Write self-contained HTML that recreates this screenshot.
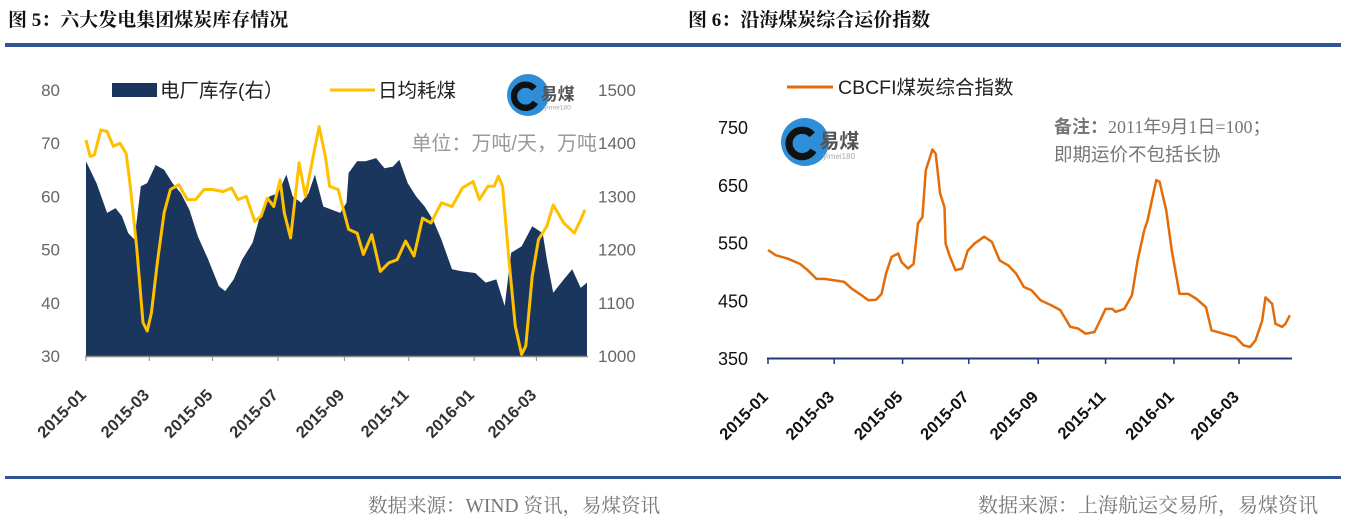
<!DOCTYPE html>
<html><head><meta charset="utf-8"><style>
body{margin:0;background:#fff;}
svg{display:block;font-family:"Liberation Sans","Noto Sans CJK SC",sans-serif;}
</style></head><body>
<svg width="1346" height="522" viewBox="0 0 1346 522">
<text x="8" y="26" font-size="19" font-weight="bold" fill="#111" font-family="Liberation Serif,Noto Serif CJK SC,serif">图 5：六大发电集团煤炭库存情况</text>
<text x="688" y="26" font-size="19" font-weight="bold" fill="#111" font-family="Liberation Serif,Noto Serif CJK SC,serif">图 6：沿海煤炭综合运价指数</text>
<rect x="5" y="43" width="1336" height="4" fill="#2F5597"/>
<rect x="5" y="476" width="1336" height="3" fill="#2F5597"/>
<text x="368" y="512" font-size="19.5" fill="#777" font-family="Liberation Serif,Noto Serif CJK SC,serif">数据来源：WIND 资讯，易煤资讯</text>
<text x="978" y="512" font-size="20" fill="#777" font-family="Liberation Serif,Noto Serif CJK SC,serif">数据来源：上海航运交易所，易煤资讯</text>
<g id="left"></g>
<g id="right"></g>
</svg>
<script>
const NS="http://www.w3.org/2000/svg";
// ---- Left chart data ----
const stockDays=[0,10,20,28,34,40,46,52,58,66,74,82,90,98,106,116,126,132,140,148,158,164,174,182,190,196,204,211,217,225,233,241,247,249,257,265,275,283,291,297,305,313,321,329,337,347,357,369,379,389,397,403,413,423,433,437,443,453,461,469,475];
const stockValues=[1366,1325,1269,1278,1263,1231,1219,1319,1325,1359,1350,1325,1306,1275,1225,1181,1131,1122,1144,1181,1213,1256,1300,1306,1341,1300,1288,1306,1341,1281,1275,1269,1288,1344,1366,1366,1372,1353,1356,1369,1325,1300,1281,1256,1219,1163,1159,1156,1138,1144,1094,1194,1206,1244,1231,1181,1119,1144,1163,1128,1138];
const burnDays=[0,4,8,14,20,26,32,38,42,48,54,58,62,68,74,80,88,96,104,112,120,130,138,144,152,160,166,172,178,184,188,194,202,208,216,221,227,231,239,249,257,263,271,279,287,295,303,311,319,327,337,347,357,367,373,381,387,391,395,401,407,413,417,423,429,437,443,453,463,469,473];
const burnValues=[70.6,67.5,67.8,72.5,72.2,69.4,70,68.1,61.9,50.6,36.3,34.7,38.1,48.1,56.9,61.3,62.2,59.4,59.4,61.3,61.3,60.9,61.6,59.4,60,55.3,56.3,59.7,58.1,63.1,56.9,52.2,66.3,60,68.1,73.1,67.5,61.9,61.3,53.8,53.1,49.1,52.8,45.9,47.5,48.1,51.6,48.8,55.9,55,58.8,58.1,61.6,62.8,59.4,61.9,61.9,63.8,61.9,48.1,35.6,30.3,31.9,45,51.9,54.4,58.4,55,53.1,55.6,57.5];
const leftTicks=[30,40,50,60,70,80];
const rightTicks=[1000,1100,1200,1300,1400,1500];
const xLabels=["2015-01","2015-03","2015-05","2015-07","2015-09","2015-11","2016-01","2016-03"];
const xTickDays=[0,60,120,182,245,306,368,427];
// ---- Right chart data ----
const cbDays=[0,7,18,29,36,44,51,62,69,76,83,91,98,103,107,112,118,121,127,132,136,140,143,149,152,156,160,161,165,170,176,181,187,196,203,210,218,225,232,239,247,257,265,274,281,288,296,301,306,312,315,323,330,335,341,344,348,352,355,361,366,373,381,388,397,402,413,424,431,437,442,448,451,457,460,466,469,473];
const cbValues=[537,528,522,513,502,487,487,484,482,470,461,450,451,461,496,525,531,516,505,513,583,594,675,711,704,635,611,548,525,502,505,536,548,560,551,519,510,496,473,467,450,441,433,404,401,392,395,415,435,435,430,435,459,519,571,588,623,658,655,606,536,461,461,453,438,398,392,386,372,369,381,415,455,444,409,404,409,424];
const cbTicks=[350,450,550,650,750];
const cbTickDays=[0,60,122,182,245,306,368,427];

function el(tag,attrs,parent,text){const e=document.createElementNS(NS,tag);for(const k in attrs)e.setAttribute(k,attrs[k]);if(text!==undefined)e.textContent=text;parent.appendChild(e);return e;}

// Left chart
const L=document.getElementById('left');
const lx=d=>86+d/475*501;
const ly=v=>356-(v-30)/50*266;
const ry=v=>356-(v-1000)/500*266;
let pa="M"+lx(stockDays[0])+","+ry(1000);
stockDays.forEach((d,i)=>{pa+=" L"+lx(d).toFixed(1)+","+ry(stockValues[i]).toFixed(1);});
pa+=" L"+lx(stockDays[stockDays.length-1])+","+ry(1000)+" Z";
const area=el('path',{d:pa,fill:'#1B365D'},L);


const bl=el('polyline',{points:burnDays.map((d,i)=>lx(d).toFixed(1)+","+ly(burnValues[i]).toFixed(1)).join(" "),fill:'none',stroke:'#FFC000','stroke-width':3,'stroke-linejoin':'round'},L);


const ax=el('line',{x1:85,y1:356.5,x2:588,y2:356.5,stroke:'#888','stroke-width':1.5},L);


leftTicks.forEach(v=>{const t=el('text',{x:60,y:ly(v)+6,'font-size':17,fill:'#666','text-anchor':'end'},L,v);

});
rightTicks.forEach(v=>{const t=el('text',{x:598,y:ry(v)+6,'font-size':17,fill:'#666'},L,v);

});
xTickDays.forEach((d,i)=>{const x=lx(d);el('line',{x1:x,y1:356,x2:x,y2:361,stroke:'#888'},L);
const t=el('text',{x:x+1,y:396,'font-size':16.5,'font-weight':'bold',fill:'#333','text-anchor':'end',transform:`rotate(-45 ${x+1} 396)`},L,xLabels[i]);

});
const lg1=el('rect',{x:112,y:83,width:45,height:14,fill:'#1B365D'},L);


const lt1=el('text',{x:160,y:97,'font-size':19.5,fill:'#222'},L,'电厂库存(右）');


const lg2=el('line',{x1:330,y1:90,x2:375,y2:90,stroke:'#FFC000','stroke-width':3},L);


const lt2=el('text',{x:378,y:97,'font-size':19.5,fill:'#222'},L,'日均耗煤');


const un=el('text',{x:597,y:150,'font-size':20,fill:'#999','text-anchor':'end'},L,'单位：万吨/天，万吨');


function logo(g,cx,cy,r,fs,name){const c=el('circle',{cx:cx,cy:cy,r:r,fill:'#2E8FD8'},g);


el('path',{d:`M${cx+r*0.3},${cy-r*0.3} A${r*0.55},${r*0.55} 0 1 0 ${cx+r*0.35},${cy+r*0.35}`,fill:'none',stroke:'#111','stroke-width':r*0.3},g);
el('text',{x:cx+r*0.6,y:cy+fs*0.3,'font-size':fs,'font-weight':'bold',fill:'#555'},g,'易煤');
el('text',{x:cx+r*0.75,y:cy+fs*0.3+fs*0.55,'font-size':fs*0.4,fill:'#aaa'},g,'yimei180');}
logo(L,528,95,21,17,'left-logo');
// Right chart
const R=document.getElementById('right');
const cx=d=>768+d/475*524;
const cy=v=>358-(v-350)/400*231;
const ol=el('polyline',{points:cbDays.map((d,i)=>cx(d).toFixed(1)+","+cy(cbValues[i]).toFixed(1)).join(" "),fill:'none',stroke:'#E36C09','stroke-width':2.5,'stroke-linejoin':'round'},R);


const ax2=el('line',{x1:767,y1:358.5,x2:1292,y2:358.5,stroke:'#1F3A7A','stroke-width':2},R);


cbTicks.forEach(v=>{const t=el('text',{x:748,y:cy(v)+7,'font-size':18,fill:'#111','text-anchor':'end'},R,v);

});
cbTickDays.forEach((d,i)=>{const x=cx(d);el('line',{x1:x,y1:358,x2:x,y2:364,stroke:'#1F3A7A','stroke-width':1.5},R);
const t=el('text',{x:x+1,y:398,'font-size':16.5,'font-weight':'bold',fill:'#111','text-anchor':'end',transform:`rotate(-45 ${x+1} 398)`},R,xLabels[i]);

});
const lg3=el('line',{x1:787,y1:87,x2:833,y2:87,stroke:'#E36C09','stroke-width':3},R);


const lt3=el('text',{x:838,y:94,'font-size':19.5,fill:'#222'},R,'CBCFI煤炭综合指数');


const n1=el('text',{x:1054,y:133,'font-size':18,fill:'#777','font-family':'Liberation Serif,Noto Sans CJK SC,serif'},R);
const b=el('tspan',{'font-weight':'bold','font-family':'Liberation Sans,Noto Sans CJK SC,sans-serif'},n1,'备注：');
el('tspan',{},n1,'2011年9月1日=100；');


const n2=el('text',{x:1054,y:161,'font-size':18.5,fill:'#777'},R,'即期运价不包括长协');


logo(R,805,142,24,20,'right-logo');
</script>
</body></html>
